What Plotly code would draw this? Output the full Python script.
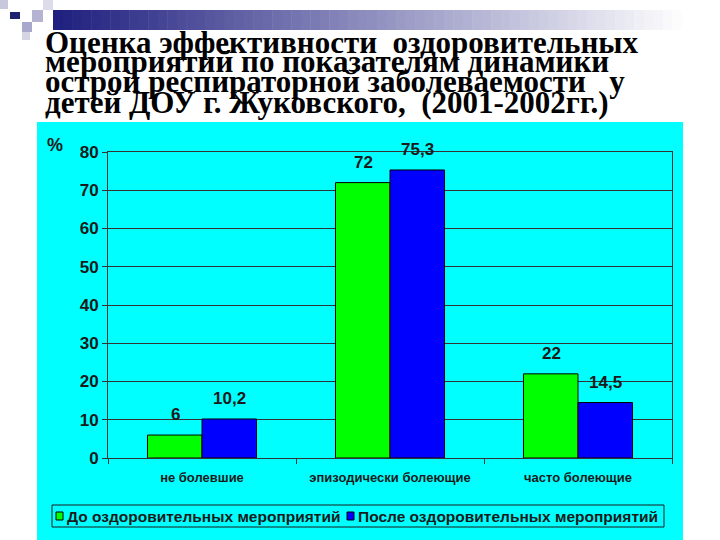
import plotly.graph_objects as go

categories = ["не болевшие", "эпизодически болеющие", "часто болеющие"]
series_names = ["До оздоровительных мероприятий", "После оздоровительных мероприятий"]
before_vals = [6, 72, 22]
after_vals = [10.2, 75.3, 14.5]
series_colors = ["#00FF00", "#0000FF"]
y_ticks = [0, 10, 20, 30, 40, 50, 60, 70, 80]
title_lines = [
    "Оценка эффективности  оздоровительных",
    "мероприятий по показателям динамики",
    "острой респираторной заболеваемости   у",
    "детей ДОУ г. Жуковского,  (2001-2002гг.)",
]

W, H = 720, 540
L, R, T, B = 108, 48, 152, 82
PW, PH = W - L - R, H - T - B


def xp(px):
    return (px - L) / PW


def yp(py):
    return (H - B - py) / PH


fig = go.Figure()
for name, vals, col in zip(series_names, [before_vals, after_vals], series_colors):
    fig.add_trace(go.Bar(
        x=categories, y=vals, name=name,
        marker=dict(color=col, line=dict(color="#000000", width=1)),
        showlegend=False,
    ))

shapes = []
# cyan chart background
shapes.append(dict(type="rect", xref="paper", yref="paper", x0=xp(37), x1=xp(683),
                   y0=yp(540), y1=yp(122), fillcolor="#00FFFF", line=dict(width=0), layer="below"))
# gradient bar at top
n = 70
x_start, x_end = 53, 720
c0 = (32, 32, 128)
for i in range(n):
    t = i / (n - 1)
    t2 = min(1.0, t * 1.05)
    c = tuple(int(c0[k] + (255 - c0[k]) * t2) for k in range(3))
    xa = x_start + (x_end - x_start) * i / n
    xb = x_start + (x_end - x_start) * (i + 1) / n + 0.5
    shapes.append(dict(type="rect", xref="paper", yref="paper", x0=xp(xa), x1=xp(xb),
                       y0=yp(30), y1=yp(10), fillcolor="rgb(%d,%d,%d)" % c,
                       line=dict(width=0), layer="above"))
# decorative squares
squares = [
    (0, 0, 8, 9, "#c8c8dc"),
    (10, 12, 20, 19, "#1e2070"),
    (32, 10, 43, 22, "#b4b4d2"),
    (43, 0, 53, 10, "#dcdcec"),
    (22, 22, 32, 32, "#a8a8cc"),
    (22, 32, 30, 40, "#d4d4e4"),
]
for x0, y0, x1, y1, c in squares:
    shapes.append(dict(type="rect", xref="paper", yref="paper", x0=xp(x0), x1=xp(x1),
                       y0=yp(y1), y1=yp(y0), fillcolor=c, line=dict(width=0), layer="above"))

# legend box (manual)
shapes.append(dict(type="rect", xref="paper", yref="paper", x0=xp(52), x1=xp(664),
                   y0=yp(527), y1=yp(505), fillcolor="rgba(0,0,0,0)",
                   line=dict(color="#1a1a1a", width=1)))
leg_sq = [(56, 512, 63, 520), (347, 512, 354, 520)]
for (x0, y0, x1, y1), col in zip(leg_sq, series_colors):
    shapes.append(dict(type="rect", xref="paper", yref="paper", x0=xp(x0), x1=xp(x1),
                       y0=yp(y1), y1=yp(y0), fillcolor=col, line=dict(color="#000", width=1)))

annotations = []
# title
title_y = [43, 62, 82, 103]
for line, ty in zip(title_lines, title_y):
    annotations.append(dict(text="<b>" + line + "</b>", xref="paper", yref="paper",
                            x=xp(43), y=yp(ty), xanchor="left", yanchor="middle",
                            showarrow=False,
                            font=dict(family="Liberation Serif", size=31, color="#000000")))
# legend texts
for name, lx in zip(series_names, [65, 356]):
    annotations.append(dict(text="<b>" + name + "</b>", xref="paper", yref="paper",
                            x=xp(lx), y=yp(516), xanchor="left", yanchor="middle",
                            showarrow=False,
                            font=dict(family="Liberation Sans", size=15.5, color="#1a1a1a")))
# percent sign
annotations.append(dict(text="<b>%</b>", xref="paper", yref="paper", x=xp(55), y=yp(145),
                        xanchor="center", yanchor="middle", showarrow=False,
                        font=dict(family="Liberation Sans", size=18, color="#1a1a1a")))
# value labels
for vals, shift in zip([before_vals, after_vals], [-27, 27]):
    for cat, v in zip(categories, vals):
        annotations.append(dict(text="<b>" + ("%g" % v).replace(".", ",") + "</b>",
                                x=cat, y=v, xref="x", yref="y", xshift=shift, yshift=9,
                                yanchor="bottom", showarrow=False,
                                font=dict(family="Liberation Sans", size=17, color="#1a1a1a")))

fig.update_layout(
    width=W, height=H,
    margin=dict(l=L, r=R, t=T, b=B, pad=0),
    paper_bgcolor="#FFFFFF",
    plot_bgcolor="#00FFFF",
    barmode="group",
    bargap=0.42,
    bargroupgap=0,
    shapes=shapes,
    annotations=annotations,
    showlegend=False,
)
fig.update_xaxes(
    showline=True, linecolor="#333333", linewidth=1, mirror=True,
    ticks="outside", tickson="boundaries", ticklen=5, tickcolor="#333333",
    tickfont=dict(family="Liberation Sans", size=13, color="#1a1a1a", weight="bold"),
    ticklabelstandoff=7,
)
fig.update_yaxes(
    range=[0, 80], tickvals=y_ticks,
    showline=True, linecolor="#333333", linewidth=1, mirror=True,
    showgrid=True, gridcolor="#333333", gridwidth=1,
    ticks="outside", ticklen=5, tickcolor="#333333",
    tickfont=dict(family="Liberation Sans", size=17, color="#1a1a1a", weight="bold"),
    zeroline=False,
)

fig.write_html("out.html")
